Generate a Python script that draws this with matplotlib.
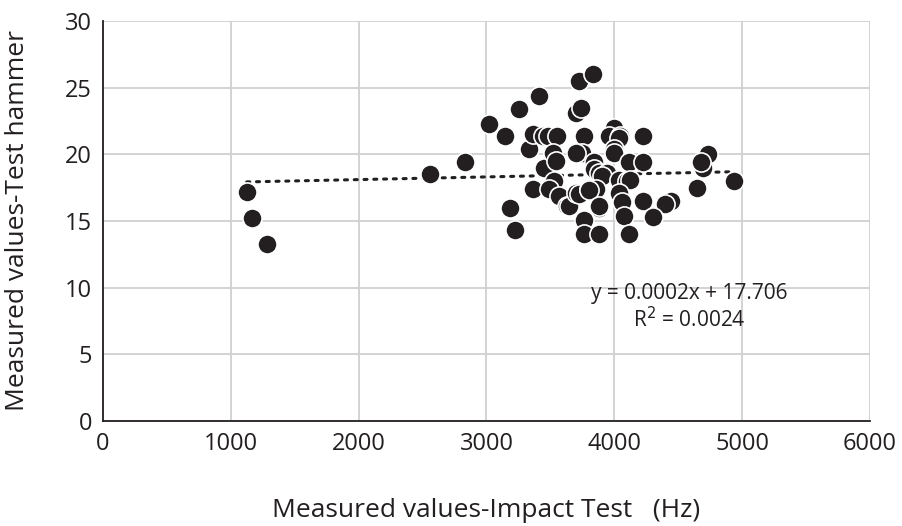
import matplotlib
matplotlib.use('Agg')
import matplotlib.pyplot as plt
import numpy as np

impact_hz = [1124, 1163, 1279, 2560, 2832, 3020, 3142, 3258, 3413, 3181,
             3220, 3331, 3452, 3367, 3362, 3439, 3478, 3555, 3517, 3543,
             3530, 3491, 3569, 3633, 3646, 3698, 3736, 3723, 3832, 3762,
             3749, 3698, 3840, 3840, 3879, 3943, 3904, 3995, 3956, 4047,
             4034, 3995, 3995, 4227, 4111, 4227, 4034, 4098, 4124, 3698,
             3723, 3801, 3853, 3801, 4034, 4059, 4227, 4447, 4395, 3879,
             3879, 3762, 4072, 4305, 3762, 3879, 4111, 4731, 4692, 4679,
             4648, 4940]
hammer = [17.2, 15.2, 13.3, 18.5, 19.4, 22.3, 21.4, 23.4, 24.4, 16.0,
          14.3, 20.4, 19.0, 17.4, 21.5, 21.4, 21.4, 21.4, 20.1, 19.5,
          18.0, 17.4, 16.9, 16.1, 16.1, 23.1, 23.5, 25.5, 26.0, 21.4,
          20.1, 20.1, 19.4, 18.9, 18.6, 18.6, 18.4, 22.0, 21.4, 21.4,
          21.2, 20.4, 20.1, 21.4, 19.4, 19.4, 18.1, 18.0, 18.1, 17.1,
          17.0, 17.4, 17.4, 17.3, 17.1, 16.4, 16.5, 16.5, 16.3, 16.0,
          16.1, 15.1, 15.4, 15.3, 14.0, 14.0, 14.0, 20.0, 19.0, 19.4,
          17.5, 18.0]

# Linear trendline as reported
slope = 0.0002
intercept = 17.706
r2 = 0.0024

plt.rcParams['font.family'] = ['Open Sans', 'DejaVu Sans']

fig = plt.figure(figsize=(9.02, 5.26), dpi=100)
ax = fig.add_axes([0.1142, 0.1996, 0.8503, 0.7605])

ax.scatter(impact_hz, hammer, s=190, color='#231f20', edgecolors='white',
           linewidths=1.2, zorder=3)

xs = np.array([min(impact_hz), max(impact_hz)])
ax.plot(xs, slope * xs + intercept, color='#231f20', linestyle=(0, (1, 2.2)),
        linewidth=2.2, dash_capstyle='round', zorder=2)

ax.text(4585, 9.6, 'y = 0.0002x + 17.706', ha='center', va='center',
        fontsize=15, color='#231f20', zorder=4)
ax.text(4585, 7.6, 'R$^2$ = %.4f' % r2, ha='center', va='center',
        fontsize=15, color='#231f20', zorder=4)

ax.set_xlim(0, 6000)
ax.set_ylim(0, 30)
ax.set_xticks(np.arange(0, 6001, 1000))
ax.set_yticks(np.arange(0, 31, 5))
ax.grid(True, color='#d0d0d0', linewidth=1.3)
ax.set_axisbelow(True)

for s in ['top', 'right']:
    ax.spines[s].set_visible(False)
for s in ['left', 'bottom']:
    ax.spines[s].set_color('#231f20')
    ax.spines[s].set_linewidth(1.3)

ax.tick_params(length=0, labelsize=17, colors='#231f20', pad=8)
ax.set_xlabel('Measured values-Impact Test   (Hz)', fontsize=19,
              color='#231f20', va='center')
ax.set_ylabel('Measured values-Test hammer', fontsize=19, color='#231f20',
              va='center')
ax.xaxis.set_label_coords(0.5, -0.2225)
ax.yaxis.set_label_coords(-0.111, 0.5)

fig.savefig('out.png', dpi=100, facecolor='white')
